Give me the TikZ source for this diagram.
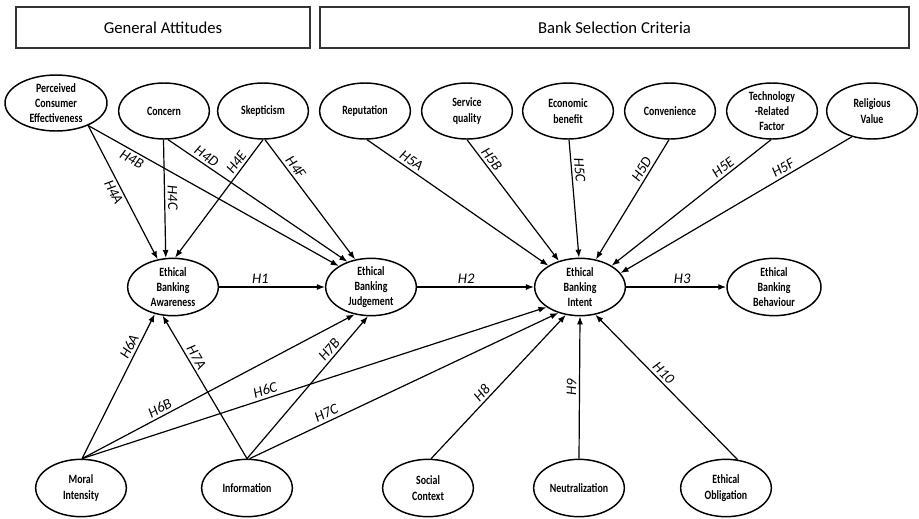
\documentclass[tikz,border=0pt]{standalone}
\usepackage{fontspec}
\setmainfont{Carlito}
\newfontfamily\nodefont[FakeStretch=0.78]{Carlito}
\usetikzlibrary{arrows.meta,shapes.geometric}

\begin{document}
\begin{tikzpicture}[x=0.75pt,y=-0.75pt,
    construct/.style={draw,ellipse,line width=1.1pt,minimum width=68pt,minimum height=43pt,
        inner sep=-3pt,align=center,font=\nodefont\bfseries\fontsize{9.5}{11.5}\selectfont},
    groupbox/.style={draw=black!80,line width=1pt,minimum height=30.75pt,inner sep=0pt,
        font=\fontsize{12.5}{14}\selectfont},
    hyp/.style={-{Latex[length=6pt,width=4.5pt]},line width=0.9pt},
    hlab/.style={font=\itshape\fontsize{11}{12}\selectfont,sloped,inner sep=2pt}]
    \useasboundingbox (0,0) rectangle (919,518);
    \node[groupbox,minimum width=220.5pt] (attitudes) at (163,27.5) {General Attitudes};
    \node[groupbox,minimum width=441.75pt] (criteria) at (614.5,27.5) {Bank Selection Criteria};
    \node[construct,minimum width=76.5pt,minimum height=42pt] (pce) at (56,103) {Perceived\\Consumer\\Effectiveness};
    \foreach \n/\x/\txt in {concern/164/Concern, skept/263/Skepticism, reput/365/Reputation,
        servq/467/{Service\\quality}, econ/568/{Economic\\benefit}, conv/670/Convenience,
        tech/772/{Technology\\-Related\\Factor}, relig/872/{Religious\\Value}}
        \node[construct,minimum height=42pt] (\n) at (\x,111) {\txt};
    \node[construct] (aware) at (173,287) {Ethical\\Banking\\Awareness};
    \node[construct] (judge) at (371,287) {Ethical\\Banking\\Judgement};
    \node[construct] (intent) at (580,287) {Ethical\\Banking\\Intent};
    \node[construct,minimum width=70.5pt] (behav) at (774,287) {Ethical\\Banking\\Behaviour};
    \node[construct] (moral) at (81,488) {Moral\\Intensity};
    \node[construct] (info) at (247,488) {Information};
    \node[construct] (social) at (428,488) {Social\\Context};
    \node[construct] (neutral) at (579,488) {Neutralization};
    \node[construct] (oblig) at (726,488) {Ethical\\Obligation};

    \draw[hyp] (pce.-35) -- (aware.119) node[hlab,pos=.47,below] {H4A};
    \draw[hyp] (pce.-35) -- (judge.147) node[hlab,pos=.19,below] {H4B};
    \draw[hyp] (concern.-91) -- (aware.104) node[hlab,pos=.49,above] {H4C};
    \draw[hyp] (concern.-82) -- (judge.133) node[hlab,pos=.19,above] {H4D};
    \draw[hyp] (skept.-90) -- (aware.86) node[hlab,pos=.23,above] {H4E};
    \draw[hyp] (skept.-86) -- (judge.120) node[hlab,pos=.27,above] {H4F};
    \draw[hyp] (reput.-86) -- (intent.146) node[hlab,pos=.22,above] {H5A};
    \draw[hyp] (servq.-90) -- (intent.129) node[hlab,pos=.2,above] {H5B};
    \draw[hyp] (econ.-88) -- (intent.92) node[hlab,pos=.26,above] {H5C};
    \draw[hyp] (conv.-92) -- (intent.60) node[hlab,pos=.28,above] {H5D};
    \draw[hyp] (tech.-92) -- (intent.34) node[hlab,pos=.27,above] {H5E};
    \draw[hyp] (relig.-128) -- (intent.19) node[hlab,pos=.28,above] {H5F};
    \draw[hyp] (aware.east) -- (judge.west) node[hlab,pos=.39,above] {H1};
    \draw[hyp] (judge.east) -- (intent.west) node[hlab,pos=.42,above] {H2};
    \draw[hyp] (intent.east) -- (behav.west) node[hlab,pos=.56,above] {H3};
    \draw[hyp] (moral.88) -- (aware.-124) node[hlab,pos=.75,above] {H6A};
    \draw[hyp] (moral.88) -- (judge.-121) node[hlab,pos=.3,above] {H6B};
    \draw[hyp] (moral.88) -- (intent.-149) node[hlab,pos=.4,above] {H6C};
    \draw[hyp] (info.90) -- (aware.-110) node[hlab,pos=.68,above] {H7A};
    \draw[hyp] (info.90) -- (judge.-96) node[hlab,pos=.73,above] {H7B};
    \draw[hyp] (info.85) -- (intent.-130) node[hlab,pos=.26,above] {H7C};
    \draw[hyp] (social.84) -- (intent.-117) node[hlab,pos=.42,above] {H8};
    \draw[hyp] (neutral.north) -- (intent.south) node[hlab,pos=.5,above] {H9};
    \draw[hyp] (oblig.68) -- (intent.-61) node[hlab,pos=.56,above] {H10};
\end{tikzpicture}
\end{document}
